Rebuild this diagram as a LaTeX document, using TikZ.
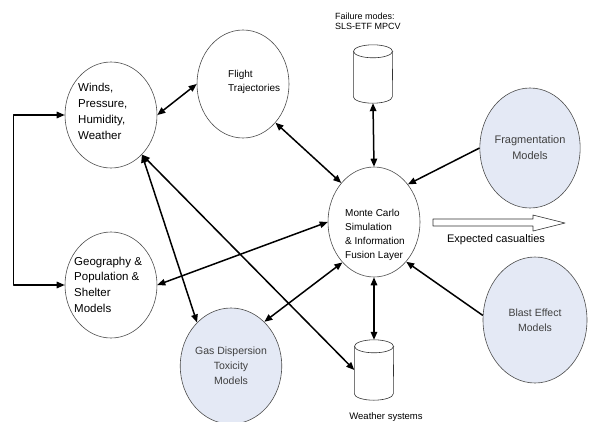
\documentclass[tikz,border=0pt]{standalone}
\usepackage{fontspec}
\setmainfont{Liberation Sans}
\usetikzlibrary{shapes.geometric,arrows.meta}
\definecolor{modelfill}{HTML}{E4E9F5}

\begin{document}
\begin{tikzpicture}[x=1pt, y=-1pt, line join=round, >={Triangle[length=8pt,width=6.5pt]},
	blob/.style={ellipse, draw=black!70, line width=0.6pt, inner sep=0pt},
	model/.style={blob, fill=modelfill, text=black!75, align=center},
	store/.style={rectangle, minimum width=39, minimum height=58, inner sep=0pt},
	can/.style={draw=black!80, line width=0.6pt},
	link/.style={line width=1.5pt},
	txt/.style={anchor=west, align=left, inner sep=0pt}]
	\useasboundingbox (0,0) rectangle (589,421);
	\path
	(111,115) node[blob, minimum width=92, minimum height=106] (winds) {}
	(243,84) node[blob, minimum width=92, minimum height=108] (flight) {}
	(374,222) node[blob, minimum width=92, minimum height=110] (mc) {}
	(111,285) node[blob, minimum width=92, minimum height=106] (geo) {}
	(530,148) node[model, minimum width=100, minimum height=120, font=\fontsize{11}{16}\selectfont] (frag) {Fragmentation\\Models}
	(535,320) node[model, minimum width=104, minimum height=126, font=\fontsize{10.5}{15}\selectfont] (blast) {Blast Effect\\Models}
	(231,366) node[model, minimum width=98, minimum height=116, font=\fontsize{10.5}{15}\selectfont] (gas) {Gas Dispersion\\Toxicity\\Models}
	(373,74) node[store] (fail) {}
	(374,370) node[store, minimum height=60] (wsys) {}
	;
	% the two data stores
	\foreach \s in {fail,wsys}
		{\draw[can] ([yshift=-6.5pt]\s.north) ellipse[x radius=19.5pt, y radius=6.5pt];
		\draw[can] ([yshift=-6.5pt]\s.north west) -- ([yshift=6.5pt]\s.south west)
			arc[start angle=180, end angle=360, x radius=19.5pt, y radius=6.5pt] -- ([yshift=-6.5pt]\s.north east);}
	% texts of the open circles
	\node[txt, font=\fontsize{11.5}{16}\selectfont] (winds-t) at (78,111.5) {Winds,\\Pressure,\\Humidity,\\Weather};
	\node[txt, font=\fontsize{10}{14}\selectfont] (flight-t) at (228,81.5) {Flight\\Trajectories};
	\node[txt, font=\fontsize{10}{14}\selectfont] (mc-t) at (345,234.5) {Monte Carlo\\Simulation\\\& Information\\Fusion Layer};
	\node[txt, font=\fontsize{11.5}{15.7}\selectfont] (geo-t) at (74,284.5) {Geography \&\\Population \&\\Shelter\\Models};
	\node[txt, font=\fontsize{9}{10}\selectfont] (fail-t) at (335,21.5) {Failure modes:\\SLS-ETF MPCV};
	\node[anchor=base, inner sep=0pt, font=\fontsize{9.5}{11}\selectfont] (wsys-t) at (386,419) {Weather systems};
	% output
	\draw[draw=black!80, line width=0.6pt] (433,219) -- ++(100,0) -- ++(0,-4) -- ++(32,8) -- ++(-32,8) -- ++(0,-5) -- ++(-100,0) -- cycle;
	\node[inner sep=0pt, font=\fontsize{11}{13}\selectfont] (cas) at (496,240) {Expected casualties};
	% connectors
	\draw[link, <->] (winds.west) -- ++(-51,0) |- (geo.west);
	\foreach \a/\b in {winds.east/flight.west, flight.-50/mc.130, fail.south/mc.north, winds.-52/gas.128, winds.-52/wsys.west, mc.west/geo.east, mc.232/gas.53, mc.south/wsys.north}
		{\draw[link, <->] (\a) -- (\b);}
	\foreach \a/\b in {frag.west/mc.48, blast.175/mc.-51}
		{\draw[link, ->] (\a) -- (\b);}
\end{tikzpicture}
\end{document}
